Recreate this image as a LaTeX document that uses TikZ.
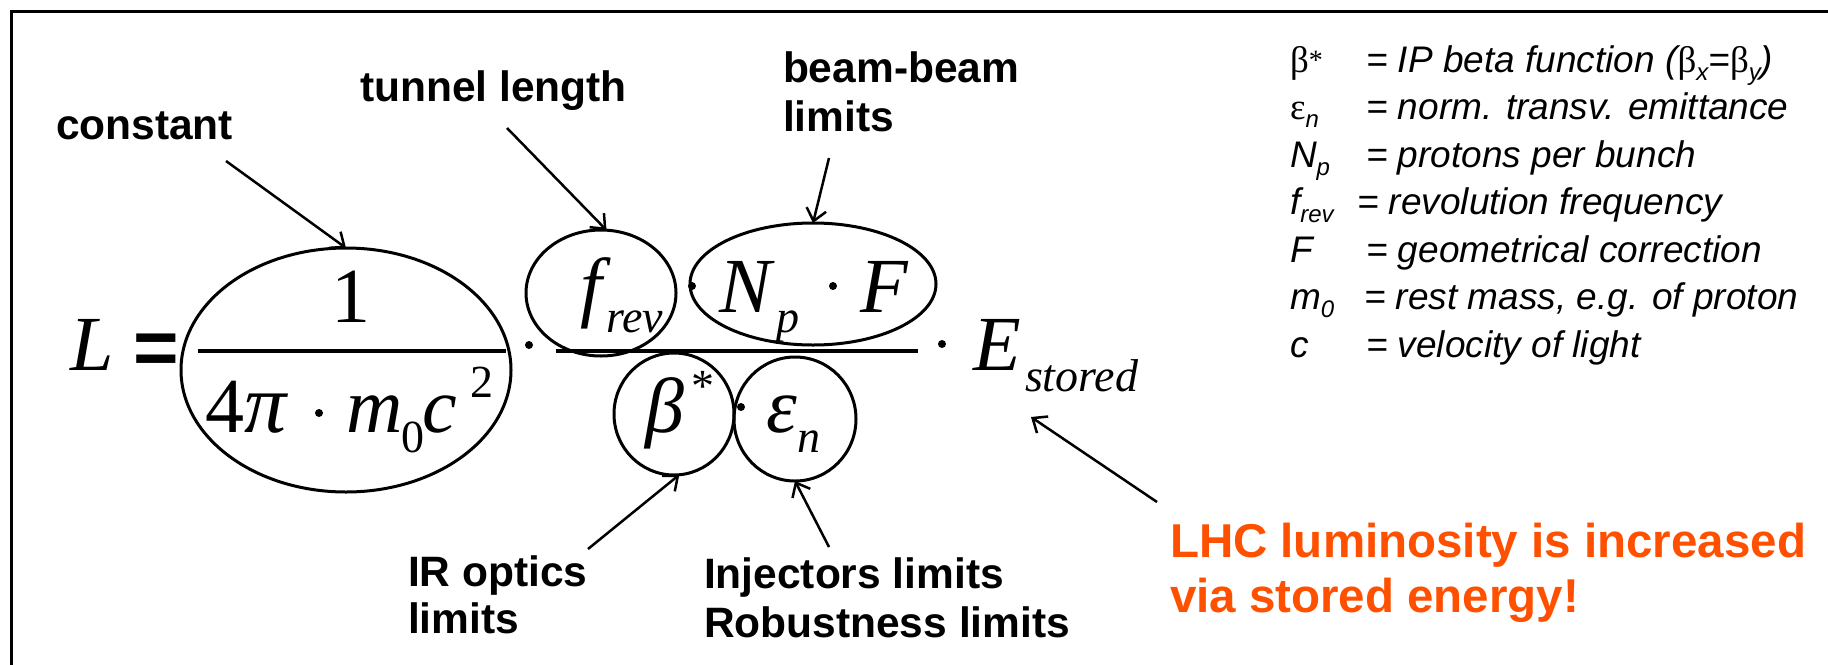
\documentclass[tikz,border=0pt]{standalone}
\usepackage{fontspec}
\setmainfont{Liberation Serif}
\newfontfamily\sansf{Liberation Sans}
\newfontfamily\srff{Liberation Serif}
\usetikzlibrary{shapes.geometric,arrows.meta}
\definecolor{lhcorange}{RGB}{255,80,0}
\newcommand\lblf{\sansf\bfseries\fontsize{42.5}{49}\selectfont}
\newcommand\orf{\sansf\bfseries\fontsize{47.5}{55}\selectfont}
\newcommand\mainf{\srff\itshape\fontsize{78}{80}\selectfont}
\newcommand\mainu{\srff\upshape\fontsize{78}{80}\selectfont}
\newcommand\subf{\srff\itshape\fontsize{46}{48}\selectfont}
\newcommand\subu{\srff\upshape\fontsize{46}{48}\selectfont}
\newcommand\legf{\sansf\itshape\fontsize{37}{40}\selectfont}
\newcommand\legs{\sansf\itshape\fontsize{24}{26}\selectfont}
\newcommand\legg{\srff\upshape\fontsize{37}{40}\selectfont}
\newcommand\lsub[1]{\raisebox{-8pt}{\legs #1}}
\begin{document}
\begin{tikzpicture}[x=1pt,y=-1pt,
  txt/.style={inner sep=0pt,outer sep=0pt,anchor=base west},
  ell/.style={ellipse,draw,line width=3pt,inner sep=0pt,outer sep=0pt},
  dotn/.style={circle,fill=black,inner sep=0pt,minimum size=8pt},
  fracline/.style={line width=3.5pt},
  arr/.style={line width=2.5pt,-{Straight Barb[length=12pt,width=20pt]}}]
\useasboundingbox (0,0) rectangle (1828,664);
\fill[white] (0,0) rectangle (1828,664);
% frame
\draw[line width=3pt] (11,700) -- (11,11) -- (1860,11);

% ellipses
\node[ell,minimum width=330pt,minimum height=244pt] (E1) at (346,370) {};
\node[ell,minimum width=150pt,minimum height=126pt] (Efrev) at (601,293) {};
\node[ell,minimum width=246pt,minimum height=122pt] (ENF) at (813,284) {};
\node[ell,minimum width=120pt,minimum height=122pt] (Ebeta) at (674,414) {};
\node[ell,minimum width=122pt,minimum height=124pt] (Eeps) at (795,419) {};

% formula
\node[txt] (L) at (70,370) {\mainf L};
\node[txt] (eq) at (133,374) {\sansf\bfseries\fontsize{78}{80}\selectfont =};
\node[txt,anchor=base] (one) at (351,322) {\mainu 1};
\draw[fracline] (198,351) -- (506,351);
\node[txt] (four) at (205,432) {\mainu 4\mainf\fontsize{84}{86}\selectfont π};
\node[dotn] (d0) at (319,413) {};
\node[txt] (m) at (346,432) {\mainf m};
\node[txt] (m0) at (401,452) {\subu 0};
\node[txt] (c) at (422,432) {\mainf c};
\node[txt] (c2) at (470,397) {\subu 2};
\node[dotn] (d1) at (529,345) {};
\node[txt] (f) at (580,312) {\mainf f};
\node[txt] (rev) at (606,332) {\subf rev};
\node[dotn] (d2) at (692,286) {};
\node[txt] (N) at (719,312) {\mainf N};
\node[txt] (p) at (776,332) {\subf p};
\node[dotn] (d3) at (833,286) {};
\node[txt] (F) at (860,312) {\mainf F};
\draw[fracline] (556,351) -- (918,351);
\node[txt] (beta) at (645,432) {\mainf β};
\node[txt] (star) at (691,401) {\subu *};
\node[dotn] (d4) at (741,407) {};
\node[txt] (eps) at (766,432) {\mainf ε};
\node[txt] (n) at (797,452) {\subf n};
\node[dotn] (d5) at (942,344) {};
\node[txt] (E) at (973,370) {\mainf E};
\node[txt] (stored) at (1025,391) {\subf stored};

% labels
\node[txt] (lc) at (56,139) {\lblf constant};
\node[txt] (lt) at (360,101) {\lblf tunnel length};
\node[txt] (lb1) at (783,82) {\lblf beam-beam};
\node[txt] (lb2) at (783,131) {\lblf limits};
\node[txt] (li1) at (408,586) {\lblf IR optics};
\node[txt] (li2) at (408,633) {\lblf limits};
\node[txt] (lj1) at (704,588) {\lblf Injectors limits};
\node[txt] (lj2) at (704,637) {\lblf Robustness limits};
\node[txt,text=lhcorange] (o1) at (1170,557) {\orf LHC luminosity is increased};
\node[txt,text=lhcorange] (o2) at (1170,612) {\orf via stored energy!};

% arrows
\coordinate (a1) at (226,161);
\coordinate (a2) at (507,128);
\coordinate (a3) at (829,158);
\coordinate (a4) at (588,549);
\coordinate (a5) at (829,547);
\coordinate (a6) at (1157,502);
\coordinate (a6t) at (1031,417);
\draw[arr] (a1) -- (E1.north);
\draw[arr] (a2) -- (Efrev.85);
\draw[arr] (a3) -- (ENF.north);
\draw[arr] (a4) -- (Ebeta.-85);
\draw[arr] (a5) -- (Eeps.south);
\draw[arr] (a6) -- (a6t);

% legend
\node[txt] (s1) at (1290,72) {\legg β\raisebox{3pt}{\srff\fontsize{28}{28}\selectfont *}};
\node[txt] (t1) at (1366,72) {\legf = IP beta function (\legg β\lsub{x}\legf =\legg β\lsub{y}\legf )};
\node[txt] (s2) at (1290,119.5) {\legg ε\lsub{n}};
\node[txt] (t2) at (1366,119.5) {\legf = norm. transv. emittance};
\node[txt] (s3) at (1290,167) {\legf N\lsub{p}};
\node[txt] (t3) at (1366,167) {\legf = protons per bunch};
\node[txt] (s4) at (1290,214.5) {\legf f\lsub{rev}};
\node[txt] (t4) at (1357,214.5) {\legf = revolution frequency};
\node[txt] (s5) at (1290,262) {\legf F};
\node[txt] (t5) at (1366,262) {\legf = geometrical correction};
\node[txt] (s6) at (1290,309.5) {\legf m\lsub{0}};
\node[txt] (t6) at (1364,309.5) {\legf = rest mass, e.g. of proton};
\node[txt] (s7) at (1290,357) {\legf c};
\node[txt] (t7) at (1366,357) {\legf = velocity of light};
\end{tikzpicture}
\end{document}
